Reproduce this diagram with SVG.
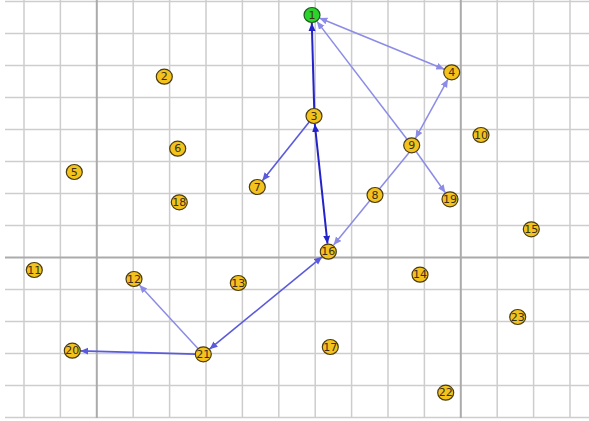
<svg xmlns="http://www.w3.org/2000/svg" width="589" height="421" viewBox="0 0 589 421">
<style>
.g{stroke:#cdcdcd;stroke-width:1.5;fill:none}
.gm{stroke:#ababab;stroke-width:2;fill:none}
.n ellipse{fill:#f4c21c;stroke:#4a3c10;stroke-width:1.2}
.n.s ellipse{fill:#2bd42b;stroke:#1d5a1d}
.n text{font-family:"DejaVu Sans",sans-serif;font-size:11px;fill:#3a3020;text-anchor:middle;dominant-baseline:central}
.ed{stroke:#2323c8;stroke-width:2;fill:none}
.em{stroke:#5a5adc;stroke-width:1.6;fill:none}
.el{stroke:#8c8ce6;stroke-width:1.5;fill:none}
</style>
<defs>
<marker id="ad" markerUnits="userSpaceOnUse" markerWidth="9" markerHeight="8" refX="8" refY="3.5" orient="auto-start-reverse"><path d="M0,0 L8,3.5 L0,7 z" fill="#2323c8"/></marker>
<marker id="am" markerUnits="userSpaceOnUse" markerWidth="9" markerHeight="8" refX="8" refY="3.5" orient="auto-start-reverse"><path d="M0,0 L8,3.5 L0,7 z" fill="#5a5adc"/></marker>
<marker id="al" markerUnits="userSpaceOnUse" markerWidth="9" markerHeight="8" refX="8" refY="3.5" orient="auto-start-reverse"><path d="M0,0 L8,3.5 L0,7 z" fill="#8c8ce6"/></marker>
</defs>
<rect width="589" height="421" fill="#ffffff"/>
<g id="grid">
<path class="g" d="M5,1.5H589M5,33.5H589M5,65.5H589M5,97.5H589M5,129.5H589M5,161.5H589M5,193.5H589M5,225.5H589M5,289.5H589M5,321.5H589M5,353.5H589M5,385.5H589M5,417.5H589"/>
<path class="g" d="M24,0V418M60.4,0V418M133.2,0V418M169.6,0V418M206,0V418M242.4,0V418M278.8,0V418M315.2,0V418M351.6,0V418M388,0V418M424.4,0V418M497.2,0V418M533.6,0V418M570,0V418"/>
<path class="gm" d="M5,257.5H589M96.8,0V418M460.8,0V418"/>
</g>
<g id="connectors">
<line class="ed" x1="314.2" y1="108" x2="311.8" y2="23" marker-end="url(#ad)"/>
<line class="ed" x1="314.8" y1="124" x2="327.5" y2="243.7" marker-start="url(#ad)" marker-end="url(#ad)"/>
<line class="el" x1="319.4" y1="18" x2="444.3" y2="69.3" marker-start="url(#al)" marker-end="url(#al)"/>
<line class="el" x1="406.8" y1="139" x2="316.9" y2="21.4" marker-end="url(#al)"/>
<line class="el" x1="447.9" y1="79.3" x2="415.5" y2="138.3" marker-start="url(#al)" marker-end="url(#al)"/>
<line class="em" x1="309" y1="122.2" x2="262.3" y2="180.8" marker-end="url(#am)"/>
<line class="el" x1="410.4" y1="151" x2="333.6" y2="245" marker-end="url(#al)"/>
<line class="el" x1="416.3" y1="151.8" x2="445.4" y2="192.8" marker-end="url(#al)"/>
<line class="em" x1="322.1" y1="256.8" x2="209.5" y2="349.2" marker-start="url(#am)" marker-end="url(#am)"/>
<line class="el" x1="197.9" y1="348.4" x2="139.4" y2="284.9" marker-end="url(#al)"/>
<line class="em" x1="195.3" y1="354.1" x2="80.3" y2="350.9" marker-end="url(#am)"/>
</g>
<g id="n1" class="n s"><ellipse cx="312" cy="15" rx="8" ry="7.5"/><text x="312" y="15">1</text></g>
<g id="n2" class="n"><ellipse cx="164.3" cy="76.7" rx="8" ry="7.5"/><text x="164.3" y="76.7">2</text></g>
<g id="n3" class="n"><ellipse cx="314" cy="116" rx="8" ry="7.5"/><text x="314" y="116">3</text></g>
<g id="n4" class="n"><ellipse cx="451.7" cy="72.3" rx="8" ry="7.5"/><text x="451.7" y="72.3">4</text></g>
<g id="n5" class="n"><ellipse cx="74.3" cy="172" rx="8" ry="7.5"/><text x="74.3" y="172">5</text></g>
<g id="n6" class="n"><ellipse cx="177.7" cy="148.7" rx="8" ry="7.5"/><text x="177.7" y="148.7">6</text></g>
<g id="n7" class="n"><ellipse cx="257.3" cy="187" rx="8" ry="7.5"/><text x="257.3" y="187">7</text></g>
<g id="n8" class="n"><ellipse cx="375" cy="195" rx="8" ry="7.5"/><text x="375" y="195">8</text></g>
<g id="n9" class="n"><ellipse cx="411.7" cy="145.3" rx="8" ry="7.5"/><text x="411.7" y="145.3">9</text></g>
<g id="n10" class="n"><ellipse cx="481" cy="135" rx="8" ry="7.5"/><text x="481" y="135">10</text></g>
<g id="n11" class="n"><ellipse cx="34.3" cy="270" rx="8" ry="7.5"/><text x="34.3" y="270">11</text></g>
<g id="n12" class="n"><ellipse cx="134" cy="279" rx="8" ry="7.5"/><text x="134" y="279">12</text></g>
<g id="n13" class="n"><ellipse cx="238.3" cy="283" rx="8" ry="7.5"/><text x="238.3" y="283">13</text></g>
<g id="n14" class="n"><ellipse cx="420" cy="274.7" rx="8" ry="7.5"/><text x="420" y="274.7">14</text></g>
<g id="n15" class="n"><ellipse cx="531.3" cy="229.3" rx="8" ry="7.5"/><text x="531.3" y="229.3">15</text></g>
<g id="n16" class="n"><ellipse cx="328.3" cy="251.7" rx="8" ry="7.5"/><text x="328.3" y="251.7">16</text></g>
<g id="n17" class="n"><ellipse cx="330.3" cy="347" rx="8" ry="7.5"/><text x="330.3" y="347">17</text></g>
<g id="n18" class="n"><ellipse cx="179.3" cy="202.3" rx="8" ry="7.5"/><text x="179.3" y="202.3">18</text></g>
<g id="n19" class="n"><ellipse cx="450" cy="199.3" rx="8" ry="7.5"/><text x="450" y="199.3">19</text></g>
<g id="n20" class="n"><ellipse cx="72.3" cy="350.7" rx="8" ry="7.5"/><text x="72.3" y="350.7">20</text></g>
<g id="n21" class="n"><ellipse cx="203.3" cy="354.3" rx="8" ry="7.5"/><text x="203.3" y="354.3">21</text></g>
<g id="n22" class="n"><ellipse cx="445.7" cy="392.7" rx="8" ry="7.5"/><text x="445.7" y="392.7">22</text></g>
<g id="n23" class="n"><ellipse cx="517.7" cy="317" rx="8" ry="7.5"/><text x="517.7" y="317">23</text></g>
</svg>
